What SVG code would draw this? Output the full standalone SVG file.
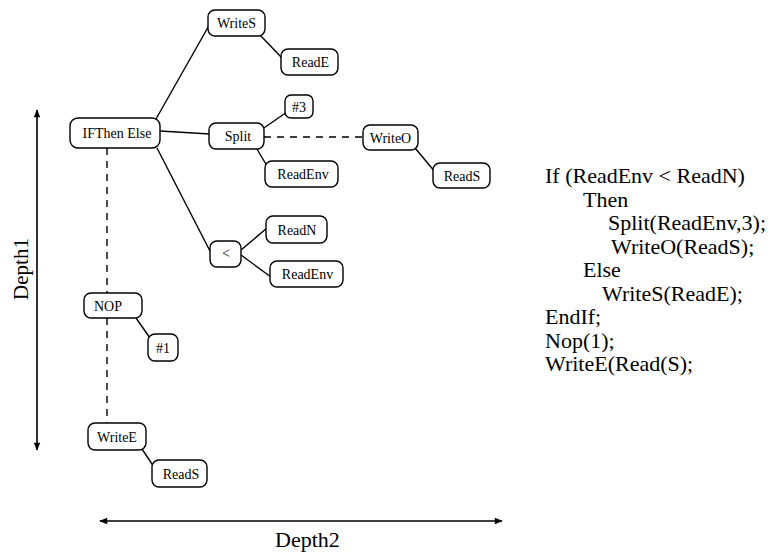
<svg xmlns="http://www.w3.org/2000/svg" width="770" height="554" viewBox="0 0 770 554">
<defs>
<style>
.n rect{fill:#fff;stroke:#000;stroke-width:1.4}
.n text{font-family:"Liberation Serif","Times New Roman",serif;font-size:14px;text-anchor:middle;fill:#000}
.c line{stroke:#000;stroke-width:1.4}
.c .d{stroke-dasharray:7,6}
.lbl{font-family:"Liberation Serif","Times New Roman",serif;font-size:22px;fill:#000}
.code{font-family:"Liberation Serif","Times New Roman",serif;font-size:22px;fill:#000}
.ax{stroke:#000;stroke-width:1.6;fill:none}
</style>
<marker id="ah" viewBox="0 0 10 10" refX="9" refY="5" markerWidth="10" markerHeight="8" markerUnits="userSpaceOnUse" orient="auto-start-reverse">
<path d="M0,1 L10,5 L0,9 Z" fill="#000"/>
</marker>
</defs>
<rect width="770" height="554" fill="#fff"/>
<g id="connectors" class="c">
<line x1="156" y1="119" x2="211" y2="22"/>
<line x1="259" y1="34" x2="283" y2="59"/>
<line x1="160" y1="131" x2="210" y2="134"/>
<line x1="261" y1="130" x2="287" y2="112"/>
<line x1="257" y1="149" x2="267" y2="166"/>
<line class="d" x1="264" y1="137" x2="363" y2="137"/>
<line x1="415" y1="148" x2="436" y2="173"/>
<line x1="157" y1="148" x2="211" y2="253"/>
<line x1="241" y1="250" x2="267" y2="228"/>
<line x1="241" y1="255" x2="271" y2="277"/>
<line class="d" x1="107" y1="148" x2="107" y2="293"/>
<line class="d" x1="107" y1="318" x2="107" y2="423"/>
<line x1="136" y1="318" x2="150" y2="338"/>
<line x1="142" y1="449" x2="154" y2="467"/>
</g>
<g id="n-writes" class="n"><rect x="208" y="10" width="57" height="26" rx="7"/><text x="236.5" y="28">WriteS</text></g>
<g id="n-reade" class="n"><rect x="281" y="49" width="57" height="26" rx="7"/><text x="310.5" y="67">ReadE</text></g>
<g id="n-3" class="n"><rect x="285" y="95" width="28" height="23" rx="6"/><text x="299" y="111.5">#3</text></g>
<g id="n-split" class="n"><rect x="209" y="123" width="55" height="26" rx="7"/><text x="238" y="141">Split</text></g>
<g id="n-writeo" class="n"><rect x="363" y="125" width="55" height="25" rx="7"/><text x="390.5" y="142.5">WriteO</text></g>
<g id="n-readenv1" class="n"><rect x="265" y="161" width="73" height="26" rx="7"/><text x="303" y="179">ReadEnv</text></g>
<g id="n-reads1" class="n"><rect x="433" y="163" width="57" height="25" rx="7"/><text x="462" y="180.5">ReadS</text></g>
<g id="n-ifthen" class="n"><rect x="70" y="118" width="90" height="30" rx="8"/><text x="117" y="138">IFThen Else</text></g>
<g id="n-lt" class="n"><rect x="210" y="241" width="31" height="26" rx="7"/><text x="226" y="257.5">&lt;</text></g>
<g id="n-readn" class="n"><rect x="266" y="216" width="61" height="27" rx="7"/><text x="297" y="234.5">ReadN</text></g>
<g id="n-readenv2" class="n"><rect x="270" y="261" width="73" height="26" rx="7"/><text x="307.5" y="279">ReadEnv</text></g>
<g id="n-nop" class="n"><rect x="84" y="293" width="58" height="25" rx="7"/><text x="108" y="310.5">NOP</text></g>
<g id="n-1" class="n"><rect x="148" y="334" width="30" height="27" rx="7"/><text x="163" y="352.5">#1</text></g>
<g id="n-writee" class="n"><rect x="88" y="423" width="58" height="27" rx="7"/><text x="117" y="441.5">WriteE</text></g>
<g id="n-reads2" class="n"><rect x="152" y="460" width="55" height="27" rx="7"/><text x="181" y="478.5">ReadS</text></g>
<g id="axes">
<line class="ax" x1="37" y1="450" x2="37" y2="110" marker-end="url(#ah)" marker-start="url(#ah)"/>
<line class="ax" x1="100" y1="521" x2="502" y2="521" marker-end="url(#ah)" marker-start="url(#ah)"/>
<text class="lbl" transform="translate(28,269) rotate(-90)" text-anchor="middle" style="font-size:21px">Depth1</text>
<text class="lbl" x="307.5" y="547" text-anchor="middle">Depth2</text>
</g>
<g id="code" class="code">
<text x="545" y="183">If (ReadEnv &lt; ReadN)</text>
<text x="583" y="206.5">Then</text>
<text x="608" y="230">Split(ReadEnv,3);</text>
<text x="611" y="253.5">WriteO(ReadS);</text>
<text x="583" y="277">Else</text>
<text x="602" y="300.5">WriteS(ReadE);</text>
<text x="545" y="324">EndIf;</text>
<text x="545" y="347.5">Nop(1);</text>
<text x="545" y="371">WriteE(Read(S);</text>
</g>
</svg>
